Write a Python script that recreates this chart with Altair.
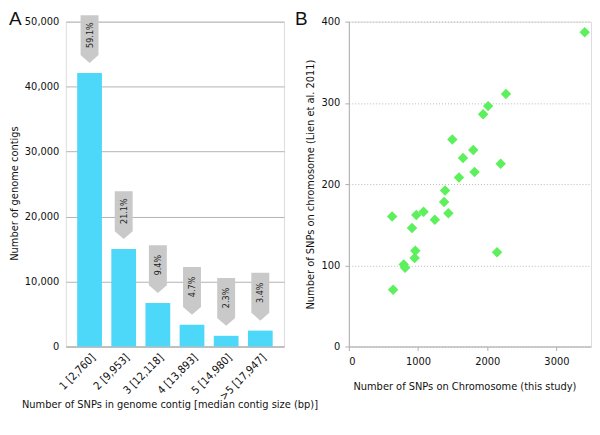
import altair as alt
import pandas as pd

FONT = "DejaVu Sans Condensed, DejaVu Sans, sans-serif"
FS = 11
H = 326

# Panel A data
categories = ["1 [2,760]", "2 [9,953]", "3 [12,118]", "4 [13,893]", "5 [14,980]", ">5 [17,947]"]
contig_counts = [42100, 15000, 6700, 3350, 1650, 2450]
percent_labels = ["59.1%", "21.1%", "9.4%", "4.7%", "2.3%", "3.4%"]

# Panel B data
snps_this_study = [3409, 2271, 2013, 1941, 1496, 1798, 1650, 2195, 1817, 1592, 1391, 1377,
                   626, 975, 1080, 913, 1243, 1439, 961, 951, 793, 813, 640, 2142]
snps_lien = [387, 311, 296, 286, 255, 242, 232, 225, 215, 208, 192, 178,
             160, 162, 166, 146, 156, 164, 118, 109, 101, 97, 70, 116]

bar_df = pd.DataFrame({"cat": categories, "n": contig_counts, "pct": percent_labels})
sc_df = pd.DataFrame({"x": snps_this_study, "y": snps_lien})

ARROW = "M-0.375,-1L0.375,-1L0.375,0.67L0,1L-0.375,0.67Z"

common = dict(labelFontSize=FS, titleFontSize=FS, labelColor="#111", titleColor="#111",
              titleFontWeight="normal", labelFont=FONT, titleFont=FONT)

xA = alt.X(
    "cat:N", sort=categories,
    title="Number of SNPs in genome contig [median contig size (bp)]",
    scale=alt.Scale(paddingInner=0.275, paddingOuter=0.333),
    axis=alt.Axis(labelAngle=-45, ticks=False, domainColor="#b0b0b0", labelPadding=5,
                  titleX=104, titleY=61, titleBaseline="alphabetic", **common),
)
yA = alt.Y(
    "n:Q", title="Number of genome contigs",
    scale=alt.Scale(domain=[0, 50000], nice=False),
    axis=alt.Axis(values=[0, 10000, 20000, 30000, 40000, 50000], format=",d", ticks=False,
                  domain=False, gridColor="#b4b4b4", labelPadding=7,
                  titleX=-51, titleY=172, titleBaseline="middle", **common),
)

bars = alt.Chart(bar_df).mark_bar(color="#4dd8fa").encode(x=xA, y=yA)
arrows = alt.Chart(bar_df).mark_point(
    shape=ARROW, size=2304, filled=True, color="#c9c9c9", opacity=1, yOffset=-34
).encode(x=alt.X("cat:N", sort=categories), y="n:Q")
pct_text = alt.Chart(bar_df).mark_text(
    angle=270, yOffset=-38, fontSize=9, font=FONT, color="#222"
).encode(x=alt.X("cat:N", sort=categories), y="n:Q", text="pct:N")
labA = alt.Chart(pd.DataFrame({"t": ["A"]})).mark_text(
    align="left", baseline="top", fontSize=19, font="Liberation Sans", color="#111"
).encode(x=alt.value(-57), y=alt.value(-12), text="t:N")

panelA = alt.layer(bars, arrows, pct_text, labA).properties(width=219, height=H)

xB = alt.X(
    "x:Q", title="Number of SNPs on Chromosome (this study)",
    scale=alt.Scale(domain=[0, 3500], nice=False),
    axis=alt.Axis(values=[0, 1000, 2000, 3000], format="d", grid=False, domainColor="#b0b0b0",
                  tickColor="#b0b0b0", tickSize=4, labelPadding=5,
                  titleX=116, titleY=43, titleBaseline="alphabetic", **common),
)
yB = alt.Y(
    "y:Q", title="Number of SNPs on chromosome (Lien et al. 2011)",
    scale=alt.Scale(domain=[0, 400], nice=False),
    axis=alt.Axis(values=[0, 100, 200, 300, 400], format="d", domainColor="#b0b0b0",
                  tickColor="#b0b0b0", tickSize=4, gridColor="#b8b8b8", gridDash=[1, 2],
                  labelPadding=5, titleX=-38, titleBaseline="middle", **common),
)
pts = alt.Chart(sc_df).mark_point(
    shape="diamond", size=110, filled=True, color="#5cf05c", opacity=1
).encode(x=xB, y=yB)
labB = alt.Chart(pd.DataFrame({"t": ["B"]})).mark_text(
    align="left", baseline="top", fontSize=19, font="Liberation Sans", color="#111"
).encode(x=alt.value(-54), y=alt.value(-12), text="t:N")

panelB = alt.layer(pts, labB).properties(width=243, height=H)

chart = alt.hconcat(panelA, panelB, spacing=65, bounds="flush").properties(
    padding={"left": 0, "top": 0, "right": 0, "bottom": 0}
).configure_view(stroke=None).configure(font=FONT)

chart.save("out.html", embed_options={"renderer": "svg", "actions": False})
